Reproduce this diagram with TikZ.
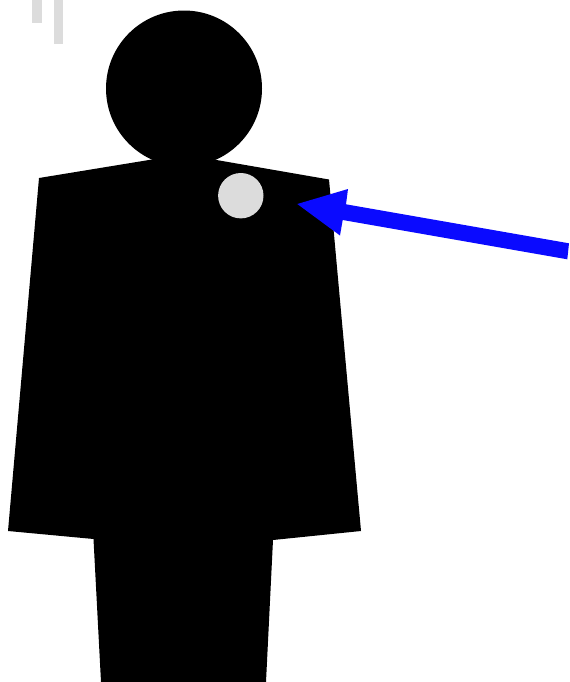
\documentclass[tikz,border=0pt]{standalone}
\definecolor{lightgrey}{HTML}{DCDCDC}
\definecolor{arrowblue}{HTML}{0A0AFF}
\tikzset{
  figure/.style={fill=black,draw=none},
  marker/.style={fill=lightgrey,draw=none},
  pointer/.style={fill=arrowblue,draw=none}
}
\begin{document}
\begin{tikzpicture}[x=0.75pt,y=-0.75pt]
\useasboundingbox (0,0) rectangle (569,682);
% background bars
\fill[marker] (32,0) rectangle (42,23);
\fill[marker] (54,0) rectangle (63,44);
% head
\fill[figure] (184,88.5) circle[radius=78];
% body
\fill[figure] (39,178) -- (155,159) -- (216.5,160) -- (329,179.5) -- (361,531) -- (273,540)
  -- (266,682) -- (101,682) -- (93.5,539) -- (8,531) -- cycle;
% badge
\fill[marker] (240.8,195.7) circle[radius=22.7];
% arrow
\fill[pointer] (297.3,204) -- (348,189) -- (346,204.3) -- (569,243.3) -- (567.3,259.3)
  -- (342.7,220) -- (340,235.5) -- cycle;
\end{tikzpicture}
\end{document}
